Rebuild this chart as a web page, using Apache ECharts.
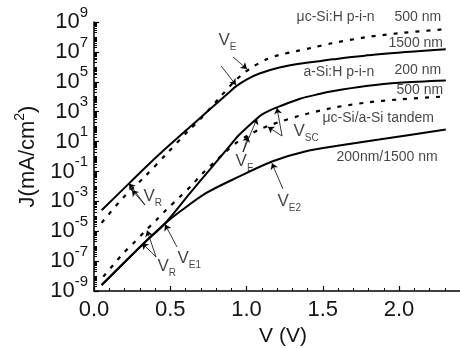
<!DOCTYPE html>
<html><head><meta charset="utf-8">
<script src="https://cdn.jsdelivr.net/npm/echarts@6/dist/echarts.min.js"></script>
<style>html,body{margin:0;padding:0;background:#fff}#c{width:460px;height:348px}</style>
</head><body><div id="c"></div>
<script>
// Voltage V (V) and exponent log10(J), J in mA/cm^2
const V_mc1500  = [0.05, 0.235, 0.366, 0.497, 0.627, 0.758, 0.889, 0.933, 1.0, 1.085, 1.216, 1.346, 1.477, 1.562, 1.869, 2.307];
const E_mc1500  = [-3.6, -1.75, -0.45, 0.78, 1.96, 3.14, 4.32, 4.71, 5.15, 5.55, 5.95, 6.2, 6.38, 6.5, 6.84, 7.17];
const V_mc500   = [0.05, 0.19, 0.333, 0.477, 0.621, 0.699, 0.837, 0.90, 0.967, 1.033, 1.131, 1.216, 1.327, 1.431, 1.562, 1.784, 2.0, 2.307];
const E_mc500   = [-4.44, -2.76, -1.35, 0.19, 1.74, 2.52, 4.09, 4.8, 5.45, 5.95, 6.5, 6.8, 7.05, 7.28, 7.58, 7.98, 8.25, 8.52];
const V_a200    = [0.05, 0.322, 0.464, 0.627, 0.769, 0.867, 0.954, 1.063, 1.1, 1.15, 1.216, 1.346, 1.477, 1.562, 1.784, 2.0, 2.307];
const E_a200    = [-8.6, -5.85, -4.5, -2.48, -0.76, 0.43, 1.47, 2.5, 2.8, 3.07, 3.35, 3.85, 4.18, 4.36, 4.71, 4.94, 5.09];
const V_a500    = [0.061, 0.126, 0.192, 0.263, 0.333, 0.41, 0.475, 0.562, 0.639, 0.704, 0.856, 0.933, 1.008, 1.085, 1.161, 1.237, 1.346, 1.562, 1.78, 2.0, 2.307];
const E_a500    = [-8.04, -7.26, -6.47, -5.76, -5.02, -4.23, -3.56, -2.71, -1.95, -1.21, 0.24, 0.91, 1.40, 1.81, 2.12, 2.38, 2.72, 3.25, 3.6, 3.82, 4.02];
const V_tandem  = [0.05, 0.322, 0.464, 0.562, 0.737, 0.954, 1.172, 1.39, 1.608, 1.869, 2.307];
const E_tandem  = [-8.6, -5.85, -4.5, -3.70, -2.44, -1.33, -0.32, 0.35, 0.73, 1.13, 1.8];

// axis ticks
const xMajorTicks = [0, 0.5, 1.0, 1.5, 2.0];
const xMinorTicks = [0.1,0.2,0.3,0.4,0.6,0.7,0.8,0.9,1.1,1.2,1.3,1.4,1.6,1.7,1.8,1.9,2.1,2.2,2.3];
const yMajorExps  = [-9, -7, -5, -3, -1, 1, 3, 5, 7, 9];
const yMinorMantissas = [1, 2, 3, 4, 5, 6, 7, 8, 9];

// annotation texts [V, exponent, text]
const curveTexts = [
  [1.325, 9.34, '\u03bcc-Si:H p-i-n'], [1.967, 9.34, '500 nm'],
  [1.928, 7.6, '1500 nm'],
  [1.370, 5.66, 'a-Si:H p-i-n'], [1.967, 5.79, '200 nm'],
  [1.980, 4.45, '500 nm'],
  [1.495, 2.58, '\u03bcc-Si/a-Si tandem'],
  [1.587, -0.03, '200nm/1500 nm']
];
const markTexts = [
  [0.813, 7.8, '{v|V}{s|E}'],
  [0.321, -2.64, '{v|V}{s|R}'],
  [0.413, -7.33, '{v|V}{s|R}'],
  [0.544, -6.79, '{v|V}{s|E1}'],
  [0.925, -0.30, '{v|V}{s|E}'],
  [1.305, 1.71, '{v|V}{s|SC}'],
  [1.200, -2.98, '{v|V}{s|E2}']
];
// arrows [[V1,e1],[V2,e2]] (tail -> head)
const arrows = [
  [[0.833, 6.06], [0.931, 4.79]],
  [[0.911, 6.66], [1.003, 5.86]],
  [[0.334, -3.24], [0.230, -1.8]],
  [[0.334, -3.24], [0.249, -2.25]],
  [[0.407, -6.72], [0.315, -5.8]],
  [[0.407, -6.72], [0.348, -4.95]],
  [[0.544, -6.05], [0.466, -4.55]],
  [[0.977, 0.30], [1.069, 2.55]],
  [[0.977, 0.30], [1.010, 1.37]],
  [[1.233, 1.37], [1.200, 3.25]],
  [[1.233, 1.37], [1.141, 1.98]],
  [[1.239, -2.17], [1.167, -0.45]]
];

const yMinorTicks = [];
for (let n = -9; n < 9; n++) {
  yMinorMantissas.forEach(m => {
    const v = n + Math.log10(m);
    if (yMajorExps.indexOf(v) < 0) yMinorTicks.push(v);
  });
}

const FONT = 'Liberation Sans, Arial, sans-serif';
const TXT = '#151515';
const pairs = (xs, ys) => xs.map((x, i) => [x, ys[i]]);

function curve(name, xs, ys, dashed) {
  return {
    name, type: 'line', data: pairs(xs, ys), showSymbol: false,
    smooth: 0.3, silent: true,
    lineStyle: { color: '#000', width: dashed ? 2.2 : 2, type: dashed ? [4, 7] : 'solid', cap: 'butt' }
  };
}

const chart = echarts.init(document.getElementById('c'), null, { renderer: 'canvas' });
chart.setOption({
  animation: false,
  backgroundColor: '#fff',
  grid: { left: 94, right: 0, top: 22, bottom: 57, outerBoundsMode: 'none' },
  xAxis: [{
    type: 'value', min: 0, max: 2.4,
    name: 'V (V)', nameLocation: 'middle', nameGap: 33,
    nameTextStyle: { fontFamily: FONT, fontSize: 21, color: TXT, padding: [0, 0, 0, 12] },
    axisLine: { show: true, onZero: false, lineStyle: { color: '#000', width: 1.5 } },
    axisTick: { show: true, inside: true, length: 5, customValues: xMajorTicks, lineStyle: { color: '#000', width: 1.2 } },
    axisLabel: { show: true, customValues: xMajorTicks, margin: 8, fontFamily: FONT, fontSize: 22, color: TXT,
                 formatter: v => v.toFixed(1) },
    splitLine: { show: false }
  }, {
    type: 'value', min: 0, max: 2.4, position: 'bottom',
    axisLine: { show: false, onZero: false },
    axisTick: { show: true, inside: true, length: 3, customValues: xMinorTicks, lineStyle: { color: '#000', width: 1 } },
    axisLabel: { show: false }, splitLine: { show: false }
  }],
  yAxis: [{
    type: 'value', min: -9, max: 9,
    name: 'J(mA/cm{sup|2})', nameLocation: 'middle', nameGap: 46,
    nameTextStyle: { fontFamily: FONT, fontSize: 22, color: TXT,
      rich: { sup: { fontFamily: FONT, fontSize: 14, color: TXT, verticalAlign: 'top', lineHeight: 30 } } },
    axisLine: { show: true, onZero: false, lineStyle: { color: '#000', width: 1.5 } },
    axisTick: { show: true, inside: true, length: 5, customValues: yMajorExps, lineStyle: { color: '#000', width: 1.2 } },
    axisLabel: {
      show: true, customValues: yMajorExps, margin: 6,
      formatter: v => '{b|10}{e|' + (v < 0 ? '-' + Math.abs(v) : v) + '}',
      rich: {
        b: { fontFamily: FONT, fontSize: 22, color: TXT, lineHeight: 34 },
        e: { fontFamily: FONT, fontSize: 15, color: TXT, lineHeight: 34, verticalAlign: 'top' }
      }
    },
    splitLine: { show: false }
  }, {
    type: 'value', min: -9, max: 9, position: 'left',
    axisLine: { show: false, onZero: false },
    axisTick: { show: true, inside: true, length: 3, customValues: yMinorTicks, lineStyle: { color: '#000', width: 1 } },
    axisLabel: { show: false }, splitLine: { show: false }
  }],
  series: [
    curve('\u03bcc-Si:H 500 nm', V_mc500, E_mc500, true),
    curve('\u03bcc-Si:H 1500 nm', V_mc1500, E_mc1500, false),
    curve('a-Si:H 200 nm', V_a200, E_a200, false),
    curve('a-Si:H 500 nm', V_a500, E_a500, true),
    curve('tandem 200nm/1500nm', V_tandem, E_tandem, false),
    {
      name: 'curveTexts', type: 'scatter', data: curveTexts, symbolSize: 1, clip: false, silent: true,
      itemStyle: { color: 'rgba(0,0,0,0)' },
      label: { show: true, position: 'right', distance: 0, formatter: p => p.data[2],
               fontFamily: FONT, fontSize: 14, color: TXT }
    },
    {
      name: 'markTexts', type: 'scatter', data: markTexts, symbolSize: 1, clip: false, silent: true,
      itemStyle: { color: 'rgba(0,0,0,0)' },
      label: { show: true, position: 'right', distance: 0, formatter: p => p.data[2],
               rich: {
                 v: { fontFamily: FONT, fontSize: 17, color: TXT, lineHeight: 24 },
                 s: { fontFamily: FONT, fontSize: 10, color: TXT, lineHeight: 24, verticalAlign: 'bottom' }
               } },
      markLine: {
        silent: true, symbol: ['none', 'arrow'], symbolSize: 6,
        label: { show: false },
        lineStyle: { color: '#000', width: 0.8, type: 'solid' },
        emphasis: { disabled: true },
        data: arrows.map(a => [{ coord: a[0] }, { coord: a[1] }])
      }
    }
  ]
});
</script>
</body></html>
